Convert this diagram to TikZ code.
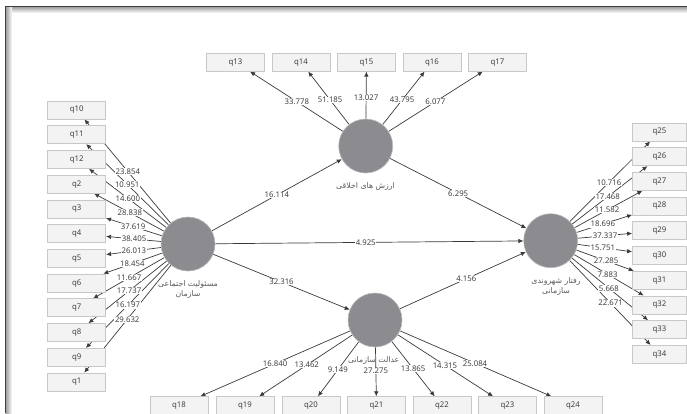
\documentclass[tikz,border=0pt]{standalone}
\usepackage{fontspec}
\setmainfont{Noto Sans}
\newfontfamily\fa[Script=Arabic]{DejaVu Sans}
\TeXXeTstate=1
\usetikzlibrary{arrows.meta,calc,backgrounds}
\definecolor{lvgray}{RGB}{140,140,144}
\definecolor{boxfill}{RGB}{243,243,243}
\definecolor{boxline}{RGB}{200,200,200}
\definecolor{linec}{RGB}{58,58,58}
\definecolor{valtext}{RGB}{64,64,64}
\definecolor{lvtext}{RGB}{90,90,90}
\begin{document}
\begin{tikzpicture}[x=1pt,y=-1pt,
  lv/.style={circle,fill=lvgray,draw=lvgray!60,line width=0.6pt,minimum size=54pt,inner sep=0pt},
  ind/.style={rectangle,fill=boxfill,draw=boxline,line width=0.7pt,minimum width=58pt,minimum height=18pt,inner sep=0pt,font=\fontsize{7.8}{9}\selectfont,text=valtext},
  indr/.style={ind,minimum width=54pt},
  arr/.style={draw=linec,line width=0.7pt,-{Latex[length=5pt,width=4.5pt]}},
  val/.style={fill=white,inner sep=0.6pt,font=\fontsize{7.8}{9}\selectfont,text=valtext},
  lvlab/.style={font=\fa\fontsize{7.8}{10}\selectfont,text=lvtext,align=center,inner sep=0pt}]
\useasboundingbox (0,0) rectangle (687,413);
\clip (0,0) rectangle (687,413);
% frame
\shade[top color=black!40,bottom color=white] (5,6.5) rectangle (687,13);
\shade[left color=black!40,right color=white] (5.5,6.5) rectangle (12,413);
\draw[black!75,line width=1.2pt] (5.5,413) -- (5.5,6.5) -- (687,6.5);
% latent variables
\node[lv] (c1) at (188,244) {};
\node[lv] (c2) at (365.7,146) {};
\node[lv] (c3) at (375,320) {};
\node[lv] (c4) at (550.7,240.7) {};
% indicators
\foreach \n [count=\i from 0] in {q10,q11,q12,q2,q3,q4,q5,q6,q7,q8,q9,q1}
  \node[ind] (\n) at (76.7,110+24.73*\i) {\n};
\foreach \n [count=\i from 0] in {q25,q26,q27,q28,q29,q30,q31,q32,q33,q34}
  \node[indr] (\n) at (659.5,132+24.7*\i) {\n};
\foreach \n/\x in {q13/235.5,q14/301,q15/366.5,q16/432,q17/497.5}
  \node[ind] (\n) at (\x,62.2) {\n};
\foreach \n/\x in {q18/179,q19/245,q20/311,q21/376.5,q22/442,q23/507.5,q24/573}
  \node[ind] (\n) at (\x,405.7) {\n};
% connectors
\begin{pgfonlayer}{background}
\foreach \n in {q10,q11,q12,q2,q3,q4,q5,q6,q7,q8,q9,q1}
  \draw[arr] (c1) -- (\n);
\foreach \n in {q25,q26,q27,q28,q29,q30,q31,q32,q33,q34}
  \draw[arr] (c4) -- (\n);
\foreach \n in {q13,q14,q15,q16,q17}
  \draw[arr] (c2) -- (\n);
\foreach \n in {q18,q19,q20,q21,q22,q23,q24}
  \draw[arr] (c3) -- (\n);
\draw[arr] (c1) -- (c2);
\draw[arr] (c2) -- (c4);
\draw[arr] (c1) -- (c4);
\draw[arr] (c1) -- (c3);
\draw[arr] (c3) -- (c4);
\end{pgfonlayer}
% loading values
\foreach \n/\v/\t in {q10/23.854/0.54,q11/10.951/0.546,q12/14.600/0.541,q2/28.838/0.523,q3/37.619/0.493,q4/38.405/0.485,q5/26.013/0.486,q6/18.454/0.5,q7/11.667/0.53,q8/17.737/0.53,q9/16.197/0.54,q1/29.632/0.546}
  \node[val] (v\n) at ($(c1)!\t!(\n)$) {\v};
\foreach \n/\v/\t in {q25/10.716/0.537,q26/17.468/0.524,q27/11.582/0.518,q28/18.696/0.48,q29/37.337/0.5,q30/15.751/0.48,q31/27.285/0.51,q32/7.883/0.523,q33/5.668/0.535,q34/22.671/0.55}
  \node[val] (v\n) at ($(c4)!\t!(\n)$) {\v};
\foreach \n/\v/\t in {q13/33.778/0.529,q14/51.185/0.549,q15/13.027/0.581,q16/43.795/0.549,q17/6.077/0.529}
  \node[val] (v\n) at ($(c2)!\t!(\n)$) {\v};
\foreach \n/\v/\t in {q18/16.840/0.51,q19/13.462/0.525,q20/9.149/0.58,q21/27.275/0.595,q22/13.865/0.57,q23/14.315/0.528,q24/25.084/0.505}
  \node[val] (v\n) at ($(c3)!\t!(\n)$) {\v};
\node[val] (p12) at ($(c1)!0.5!(c2)$) {16.114};
\node[val] (p24) at ($(c2)!0.5!(c4)$) {6.295};
\node[val] (p14) at ($(c1)!0.49!(c4)$) {4.925};
\node[val] (p13) at ($(c1)!0.5!(c3)$) {32.316};
\node[val] (p34) at ($(c3)!0.52!(c4)$) {4.156};
% construct labels
\node[lvlab] (l1) at (188,289) {\beginR مسئولیت اجتماعی\endR\\\beginR سازمان\endR};
\node[lvlab] (l2) at (365.5,186.7) {\beginR ارزش های اخلاقی\endR};
\node[lvlab] (l3) at (373.7,360) {\beginR عدالت سازمانی\endR};
\node[lvlab] (l4) at (556,286.7) {\beginR رفتار شهروندی\endR\\\beginR سازمانی\endR};
\end{tikzpicture}
\end{document}
